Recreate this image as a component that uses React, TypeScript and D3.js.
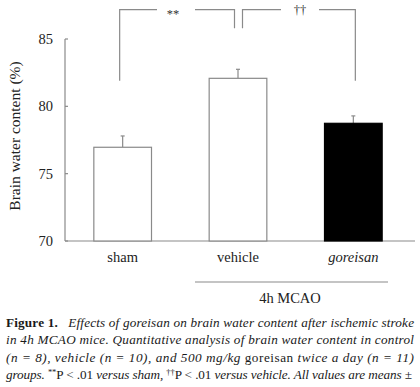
import React from "react";
import * as d3 from "d3";

const categories = ["sham", "vehicle", "goreisan"];
const means = [76.96, 82.08, 78.74];
const sems = [0.84, 0.67, 0.55];
const fills = ["#ffffff", "#ffffff", "#000000"];
const yTicks = [70, 75, 80, 85];
const groupLabel = "4h MCAO";
const yLabel = "Brain water content (%)";
const sigMarks = ["**", "††"];

export default function App() {
  const W = 420, H = 387;
  const x = d3.scaleBand<string>().domain(categories).range([65, 411]).paddingInner(0.5).paddingOuter(0.25);
  const y = d3.scaleLinear().domain([70, 85]).range([241, 39]);
  const axisColor = "#8a8a8a";
  const serif = "'Liberation Serif', 'Times New Roman', serif";
  const cx = (c: string) => (x(c) as number) + x.bandwidth() / 2;
  const topY = 9.7;
  const lowY = 80.7;
  const midY = 28.3;
  const c0 = cx(categories[0]) - 3;
  const c1 = cx(categories[1]);
  const c2 = cx(categories[2]) + 2;
  const capFont = "'Liberation Serif', 'Times New Roman', serif";
  return (
    <svg width={W} height={H} style={{ position: "absolute", left: 0, top: 0, background: "#fff" }}>
      {/* y axis */}
      <line x1={65} x2={65} y1={y(85)} y2={y(70)} stroke={axisColor} strokeWidth={1.2} />
      {yTicks.map((t) => (
        <g key={t}>
          <line x1={65} x2={68} y1={y(t)} y2={y(t)} stroke={axisColor} strokeWidth={1.2} />
          <text x={53} y={y(t)} dy="0.35em" textAnchor="end" fontFamily={serif} fontSize={14.5} fill="#222">{t}</text>
        </g>
      ))}
      <line x1={65} x2={415} y1={y(70)} y2={y(70)} stroke={axisColor} strokeWidth={1.2} />
      <text transform={`translate(20,136) rotate(-90)`} textAnchor="middle" fontFamily={serif} fontSize={15.5} fill="#222">{yLabel}</text>
      {/* bars */}
      {categories.map((c, i) => (
        <g key={c}>
          <line x1={cx(c)} x2={cx(c)} y1={y(means[i])} y2={y(means[i] + sems[i])} stroke={axisColor} strokeWidth={1.2} />
          <line x1={cx(c) - 2} x2={cx(c) + 2} y1={y(means[i] + sems[i])} y2={y(means[i] + sems[i])} stroke={axisColor} strokeWidth={1.2} />
          <rect x={x(c)} y={y(means[i])} width={x.bandwidth()} height={y(70) - y(means[i])} fill={fills[i]} stroke={i === 2 ? "#000" : axisColor} strokeWidth={1.2} />
          <text x={cx(c)} y={262} textAnchor="middle" fontFamily={serif} fontSize={14.5} fontStyle={i === 2 ? "italic" : "normal"} fill="#222">{c}</text>
        </g>
      ))}
      {/* group line */}
      <line x1={195} x2={388} y1={282} y2={282} stroke={axisColor} strokeWidth={1.2} />
      <text x={290} y={303} textAnchor="middle" fontFamily={serif} fontSize={14.5} fill="#222">{groupLabel}</text>
      {/* significance brackets */}
      <path d={`M${c0},${lowY}V${topY}H157M195,${topY}H${c1 - 3.5}V${midY}`} fill="none" stroke={axisColor} strokeWidth={1.2} />
      <path d={`M${c1 + 4.5},${midY}V${topY}H281M319,${topY}H${c2}V${lowY}`} fill="none" stroke={axisColor} strokeWidth={1.2} />
      <text x={173} y={topY} dy="0.7em" textAnchor="middle" fontFamily={serif} fontSize={12.5} fill="#333">{sigMarks[0]}</text>
      <text x={300} y={topY} dy="0.35em" textAnchor="middle" fontFamily={serif} fontSize={12.5} fill="#333">{sigMarks[1]}</text>
      {/* caption */}
      <g fontFamily={capFont} fontSize={13.2} fill="#1a1a1a">
        <text x={6} y={326.5} textLength={408} lengthAdjust="spacing">
          <tspan fontWeight="bold">Figure 1.</tspan>
          <tspan fontStyle="italic">{"\u00a0\u00a0\u00a0Effects of goreisan on brain water content after ischemic stroke"}</tspan>
        </text>
        <text x={6} y={344} textLength={408} lengthAdjust="spacing" fontStyle="italic">
          in 4h MCAO mice. Quantitative analysis of brain water content in control
        </text>
        <text x={6} y={361.5} textLength={408} lengthAdjust="spacing">
          <tspan fontStyle="italic">{"(n = 8), vehicle (n = 10), and 500 mg/kg "}</tspan>
          <tspan>goreisan</tspan>
          <tspan fontStyle="italic">{" twice a day (n = 11)"}</tspan>
        </text>
        <text x={6} y={379} textLength={406} lengthAdjust="spacing">
          <tspan fontStyle="italic">{"groups. "}</tspan>
          <tspan fontSize={8.5} dy={-4.5}>**</tspan>
          <tspan dy={4.5}>{"P < .01 "}</tspan>
          <tspan fontStyle="italic">{"versus sham, "}</tspan>
          <tspan fontSize={8.5} dy={-4.5}>††</tspan>
          <tspan dy={4.5}>{"P < .01 "}</tspan>
          <tspan fontStyle="italic">{"versus vehicle. All values are means ±"}</tspan>
        </text>
      </g>
    </svg>
  );
}
